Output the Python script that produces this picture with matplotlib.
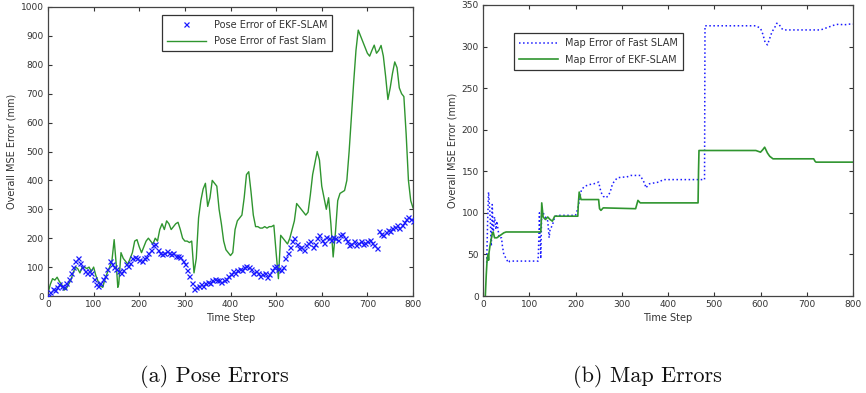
import matplotlib
matplotlib.use("Agg")
import matplotlib.pyplot as plt
import numpy as np

# ---------------- Data: (a) Pose errors ----------------
fast_pose_steps = [0, 5, 10, 15, 20, 25, 30, 35, 40, 45, 50, 55, 60, 65, 70, 75, 80, 85, 90, 95,
                   100, 105, 110, 115, 120, 125, 130, 135, 140, 145, 150, 153, 155, 160, 165, 170,
                   175, 180, 185, 190, 195, 200, 205, 210, 215, 220, 225, 230, 235, 240, 245, 250,
                   255, 260, 265, 270, 275, 280, 285, 290, 295, 300, 305, 310, 315, 320, 325, 330,
                   335, 340, 345, 350, 355, 360, 365, 370, 375, 380, 385, 390, 395, 400, 405, 410,
                   415, 420, 425, 430, 435, 440, 445, 450, 455, 460, 465, 470, 475, 480, 485, 490,
                   495, 500, 505, 510, 515, 520, 525, 530, 535, 540, 545, 550, 555, 560, 565, 570,
                   575, 580, 585, 590, 595, 600, 605, 610, 615, 620, 625, 630, 635, 640, 645, 650,
                   655, 660, 665, 670, 675, 680, 685, 690, 695, 700, 705, 710, 715, 720, 725, 730,
                   735, 740, 745, 750, 755, 760, 765, 770, 775, 780, 785, 790, 795, 800]
fast_pose_err = [10, 40, 60, 55, 65, 50, 40, 20, 25, 40, 55, 80, 100, 95, 80, 100, 100, 95, 100, 85,
                 100, 70, 50, 35, 30, 60, 80, 100, 120, 195, 100, 30, 40, 150, 130, 120,
                 110, 130, 150, 190, 195, 170, 150, 170, 190, 200, 190, 180, 200, 190, 230, 250,
                 230, 260, 250, 230, 240, 250, 255, 230, 200, 190, 190, 185, 190, 80, 130, 270,
                 330, 370, 390, 310, 340, 400, 390, 380, 300, 250, 190, 160, 150, 140, 150, 230,
                 260, 270, 280, 340, 420, 430, 360, 280, 240, 240, 235, 235, 240, 235, 240, 240,
                 245, 150, 60, 210, 200, 190, 180, 200, 230, 260, 320, 310, 300, 290, 280, 290,
                 350, 420, 460, 500, 470, 380, 340, 300, 340, 250, 135, 220, 330, 355, 360, 365,
                 400, 500, 620, 740, 850, 920, 900, 880, 860, 840, 830, 850, 868, 840, 850, 867,
                 830, 760, 680, 720, 770, 810, 790, 720, 700, 690, 560, 400, 330, 305]

ekf_pose_steps = list(range(0, 805, 5))
ekf_pose_err = [0, 15, 25, 20, 30, 40, 35, 30, 45, 60, 80, 100, 120, 130, 115, 100, 85, 80, 85, 80,
                60, 40, 35, 45, 60, 70, 95, 120, 110, 100, 95, 85, 80, 90, 110, 105, 115, 130, 135, 130,
                125, 120, 130, 135, 150, 160, 175, 180, 160, 150, 145, 150, 155, 150, 145, 150, 140, 140, 135, 120,
                110, 90, 70, 45, 25, 30, 35, 40, 35, 45, 50, 45, 55, 60, 55, 55, 50, 55, 60, 70,
                75, 85, 80, 90, 95, 90, 100, 105, 100, 95, 80, 85, 80, 70, 75, 80, 65, 75, 90, 100,
                105, 95, 90, 100, 130, 150, 170, 190, 200, 180, 165, 170, 160, 175, 185, 190, 170, 180, 200, 210,
                195, 185, 205, 200, 195, 205, 200, 195, 210, 215, 200, 190, 175, 180, 190, 175, 185, 190, 180, 185,
                190, 195, 185, 175, 165, 225, 215, 210, 220, 230, 225, 235, 240, 245, 235, 245, 255, 265, 275, 265,
                260]

# ---------------- Data: (b) Map errors ----------------
fast_map_steps = [8, 10, 12, 15, 18, 20, 22, 25, 28, 30, 35, 40, 42, 45, 50, 55, 58, 60, 119, 120,
                  122, 125, 127, 130, 135, 140, 143, 145, 150, 155, 160, 200, 205, 210, 213, 220, 230,
                  240, 250, 255, 260, 265, 270, 275, 280, 290, 300, 310, 320, 340, 345, 350, 352, 360,
                  370, 380, 390, 400, 479, 480, 590, 600, 605, 610, 615, 620, 625, 630, 635, 640, 645,
                  650, 660, 730, 740, 750, 760, 770, 780, 790, 800]
fast_map_err = [40, 90, 125, 100, 60, 110, 75, 95, 80, 90, 70, 70, 60, 50, 45, 40, 42, 42, 42, 55,
                100, 45, 105, 100, 95, 90, 70, 80, 85, 95, 97, 97, 105, 120, 128, 132, 134,
                135, 137, 125, 120, 118, 120, 125, 135, 142, 143, 143, 145, 145, 140, 135, 130, 135,
                136, 137, 140, 140, 140, 325, 325, 322, 315, 305, 302, 310, 318, 322, 328, 327, 322,
                320, 320, 320, 322, 324, 326, 327, 326, 327, 327]

ekf_map_steps = [5, 7, 9, 11, 12, 13, 15, 20, 22, 25, 30, 35, 40, 45, 50, 125, 126, 127, 130, 135,
                 140, 145, 150, 155, 205, 206, 208, 212, 250, 251, 252, 255, 260, 330, 335, 340, 465,
                 466, 467, 590, 595, 600, 605, 609, 615, 620, 627, 715, 718, 720, 800]
ekf_map_err = [0, 25, 45, 50, 43, 52, 60, 75, 77, 70, 70, 72, 74, 76, 77, 77, 90, 112, 95, 92,
               95, 92, 90, 96, 96, 110, 125, 116, 116, 110, 105, 103, 106, 105, 115, 112, 112,
               150, 175, 175, 174, 173, 176, 179, 172, 168, 165, 165, 162, 161, 161]

x_ticks = [0, 100, 200, 300, 400, 500, 600, 700, 800]
pose_y_ticks = [0, 100, 200, 300, 400, 500, 600, 700, 800, 900, 1000]
map_y_ticks = [0, 50, 100, 150, 200, 250, 300, 350]

# ---------------- Figure ----------------
W, H = 866, 393
fig = plt.figure(figsize=(W / 100, H / 100), dpi=100)
plt.rcParams['font.family'] = ['DejaVu Sans']

green = '#2f952f'
blue = '#1a1aff'
txt = '#333333'

ax1 = fig.add_axes([48 / W, 1 - 296 / H, (413 - 48) / W, (296 - 7) / H])
ax2 = fig.add_axes([483 / W, 1 - 296 / H, (853 - 483) / W, (296 - 5) / H])

ax1.plot(ekf_pose_steps, ekf_pose_err, linestyle='none', marker='x', markersize=3.6,
         markeredgewidth=0.9, color=blue, label='Pose Error of EKF-SLAM', zorder=3)
ax1.plot(fast_pose_steps, fast_pose_err, color=green, linewidth=1.0,
         label='Pose Error of Fast Slam', zorder=2)
ax1.set_xlim(0, 800)
ax1.set_ylim(0, 1000)
ax1.set_yticks(pose_y_ticks)

ax2.plot(fast_map_steps, fast_map_err, color=blue, linestyle=':', linewidth=1.1,
         label='Map Error of Fast SLAM')
ax2.plot(ekf_map_steps, ekf_map_err, color=green, linewidth=1.2,
         label='Map Error of EKF-SLAM')
ax2.set_xlim(0, 800)
ax2.set_ylim(0, 350)
ax2.set_yticks(map_y_ticks)

for ax in (ax1, ax2):
    ax.set_xticks(x_ticks)
    ax.tick_params(direction='in', top=True, right=True, length=3, width=0.8,
                   labelsize=6.5, colors=txt, pad=3)
    for s in ax.spines.values():
        s.set_color('#444444')
        s.set_linewidth(0.9)
    ax.set_xlabel('Time Step', fontsize=7, color=txt, labelpad=3)
    ax.set_ylabel('Overall MSE Error (mm)', fontsize=7, color=txt, labelpad=3)

leg1 = ax1.legend(loc='upper center', bbox_to_anchor=(0.545, 0.99), fontsize=7,
                  frameon=True, fancybox=False, edgecolor='#333333', framealpha=1,
                  handlelength=4, borderpad=0.5, labelspacing=0.7)
leg1.get_frame().set_linewidth(0.9)
for t in leg1.get_texts():
    t.set_color(txt)
leg2 = ax2.legend(loc='upper left', bbox_to_anchor=(0.07, 0.92), fontsize=7,
                  frameon=True, fancybox=False, edgecolor='#333333', framealpha=1,
                  handlelength=4, borderpad=0.5, labelspacing=0.7)
leg2.get_frame().set_linewidth(0.9)
for t in leg2.get_texts():
    t.set_color(txt)

cap_family = ['cmr10', 'Liberation Serif', 'DejaVu Serif']
fig.text(214 / W, 1 - 377 / H, '(a) Pose Errors', ha='center', va='center',
         fontsize=16, family=cap_family, color='#111111')
fig.text(647 / W, 1 - 377 / H, '(b) Map Errors', ha='center', va='center',
         fontsize=16, family=cap_family, color='#111111')

fig.savefig('out.png', dpi=100)
